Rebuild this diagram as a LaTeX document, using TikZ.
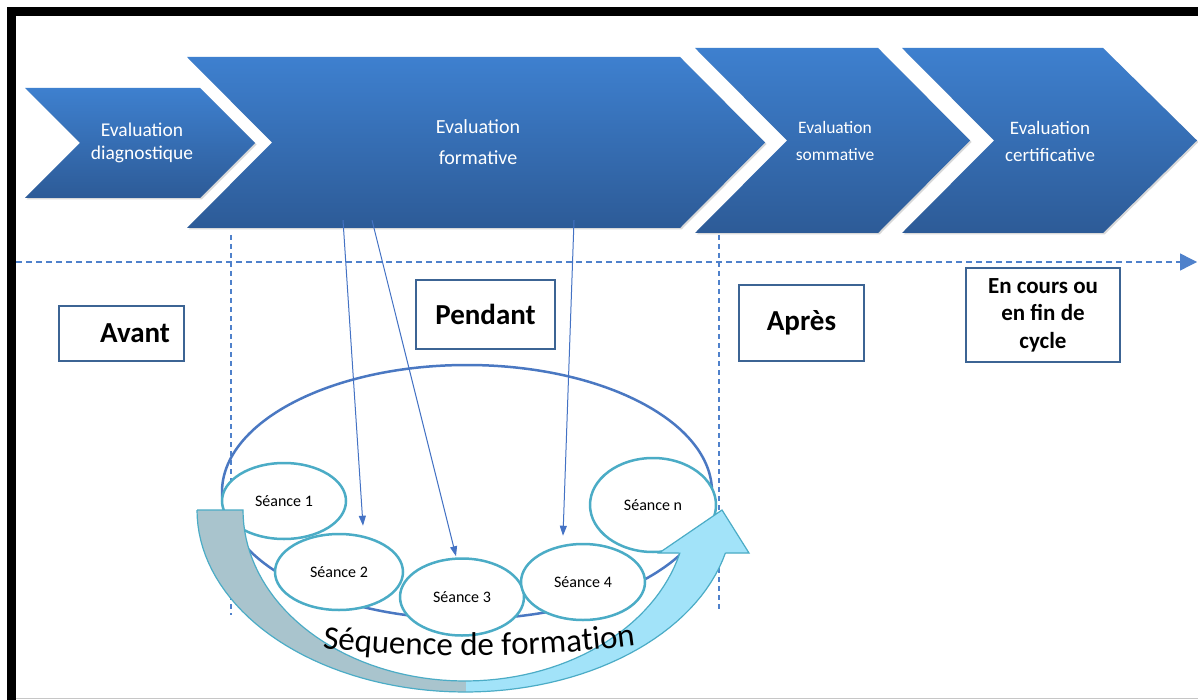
\documentclass[tikz,border=0pt]{standalone}
\usepackage{fontspec}
\setmainfont{Carlito}
\usetikzlibrary{positioning,shapes.geometric,arrows.meta,decorations.text,shadows}

\definecolor{chevtop}{HTML}{3E80CF}
\definecolor{chevbot}{HTML}{2D5B97}
\definecolor{axisblue}{HTML}{4F81CB}
\definecolor{boxblue}{HTML}{3C6494}
\definecolor{ringblue}{HTML}{4A78C2}
\definecolor{seanceteal}{HTML}{4BACC6}
\definecolor{bandgray}{HTML}{A9C4CD}
\definecolor{bandcyan}{HTML}{A2E3F9}
\definecolor{arrowblue}{HTML}{4472C4}

\tikzset{
  chevron/.style={top color=chevtop, bottom color=chevbot,
    drop shadow={shadow xshift=1.5pt, shadow yshift=-1.5pt, opacity=.3}},
  chevtext/.style={text=white, align=center, inner sep=0pt},
  timeline/.style={axisblue, dash pattern=on 6pt off 4pt, line width=1.4pt},
  periodbox/.style={draw=boxblue, line width=2pt, fill=white,
    font=\bfseries\fontsize{29}{33}\selectfont},
  seance/.style={ellipse, draw=seanceteal, line width=2.5pt, fill=white,
    inner sep=0pt, font=\fontsize{16}{19}\selectfont},
  feedarrow/.style={arrowblue, line width=1pt, -{Triangle[length=10pt,width=7pt]}}
}

\def\bandpath{(197,510) -- (243,510)
  -- plot[domain=180:14.6,samples=70] ({465+222*cos(\x)},{510+171*sin(\x)})
  -- (659,553) -- (722,510) -- (749,553)
  -- plot[domain=13.7:180,samples=70] ({465+268*cos(\x)},{510+182*sin(\x)}) -- cycle}

\begin{document}
\begin{tikzpicture}[x=1pt,y=-1pt]
\fill[white] (0,0) rectangle (1198,700);
\useasboundingbox (0,0) rectangle (1198,700);

% frame
\draw[line width=9pt] (11.5,700) -- (11.5,11.5) -- (1198,11.5);
\draw[gray!45, line width=1pt] (16,698.5) -- (1198,698.5);

% chevrons
\path[chevron] (25,88) -- (200,88) -- (255,143) -- (200,198) -- (25,198) -- (80,143) -- cycle;
\path[chevron] (187,57) -- (680,57) -- (765,142.5) -- (680,228) -- (187,228) -- (272,142.5) -- cycle;
\path[chevron] (695,48) -- (878,48) -- (970,140.5) -- (878,233) -- (695,233) -- (787,140.5) -- cycle;
\path[chevron] (902,48) -- (1103,48) -- (1197,140.5) -- (1103,233) -- (902,233) -- (994,140.5) -- cycle;

\node[chevtext, font=\fontsize{19.5}{23}\selectfont] (diag) at (142,143) {Evaluation\\diagnostique};
\node[chevtext, font=\fontsize{20}{31}\selectfont, minimum height=171pt] (form) at (478,142.5) {Evaluation\\formative};
\node[chevtext, font=\fontsize{17.5}{27}\selectfont] (somm) at (835,141) {Evaluation\\sommative};
\node[chevtext, font=\fontsize{19}{27}\selectfont] (cert) at (1050,141) {Evaluation\\certificative};

% time axis and limits
\coordinate (axisL) at (16,262);
\coordinate (axisR) at (1197,262);
\coordinate (limA) at (231,235);
\coordinate (limA') at (231,615);
\coordinate (limB) at (719,235);
\coordinate (limB') at (719,612);
\draw[timeline, -{Triangle[length=17pt,width=17pt]}] (axisL) -- (axisR);
\draw[timeline, line width=1.2pt, dash pattern=on 5pt off 4pt] (limA) -- (limA');
\draw[timeline, line width=1.2pt, dash pattern=on 5pt off 4pt] (limB) -- (limB');

% periods
\node[periodbox, minimum width=125pt, minimum height=55pt, text width=97pt,
      inner xsep=14pt, align=right] (avant) at (121.5,333.5) {Avant};
\node[periodbox, minimum width=139pt, minimum height=69pt] (pendant) at (485.5,314.5) {Pendant};
\node[periodbox, minimum width=125pt, minimum height=76pt] (apres) at (801.5,323) {Après};
\node[periodbox, minimum width=154pt, minimum height=94pt, align=center,
      font=\bfseries\fontsize{23}{27.5}\selectfont] (fincycle) at (1043,315) {En cours ou\\en fin de\\cycle};

% sequence
\node[ellipse, draw=ringblue, line width=2.5pt, minimum width=490pt, minimum height=254pt] (ring) at (467,492) {};
\node[seance, minimum width=124pt, minimum height=76pt] (s1) at (284,501) {Séance 1};
\node[seance, minimum width=128pt, minimum height=76pt] (s2) at (339,572) {Séance 2};
\node[seance, minimum width=124pt, minimum height=77pt] (s3) at (462,597) {Séance 3};
\node[seance, minimum width=124pt, minimum height=76pt] (s4) at (583,582) {Séance 4};
\node[seance, minimum width=126pt, minimum height=94pt] (sn) at (653,505) {Séance n};

\draw[feedarrow] ([xshift=-135pt,yshift=8pt]form.south) -- ([xshift=24pt,yshift=7pt]s2.north);
\draw[feedarrow] ([xshift=-106pt,yshift=8pt]form.south) -- ([xshift=-6pt,yshift=1pt]s3.north);
\draw[feedarrow] ([xshift=96pt,yshift=8pt]form.south) -- ([xshift=-20pt,yshift=7pt]s4.north);

% curved arrow
\fill[bandgray] \bandpath;
\begin{scope}
  \clip (466,400) rectangle (800,700);
  \fill[bandcyan] \bandpath;
\end{scope}
\draw[seanceteal, line width=1.2pt] \bandpath;

\path[decorate, decoration={text along path, text align=center,
  text={|\fontsize{33}{36}\selectfont|Séquence de formation}}]
  (290,644) .. controls (400,660) and (555,660) .. (668,640);
\end{tikzpicture}
\end{document}
